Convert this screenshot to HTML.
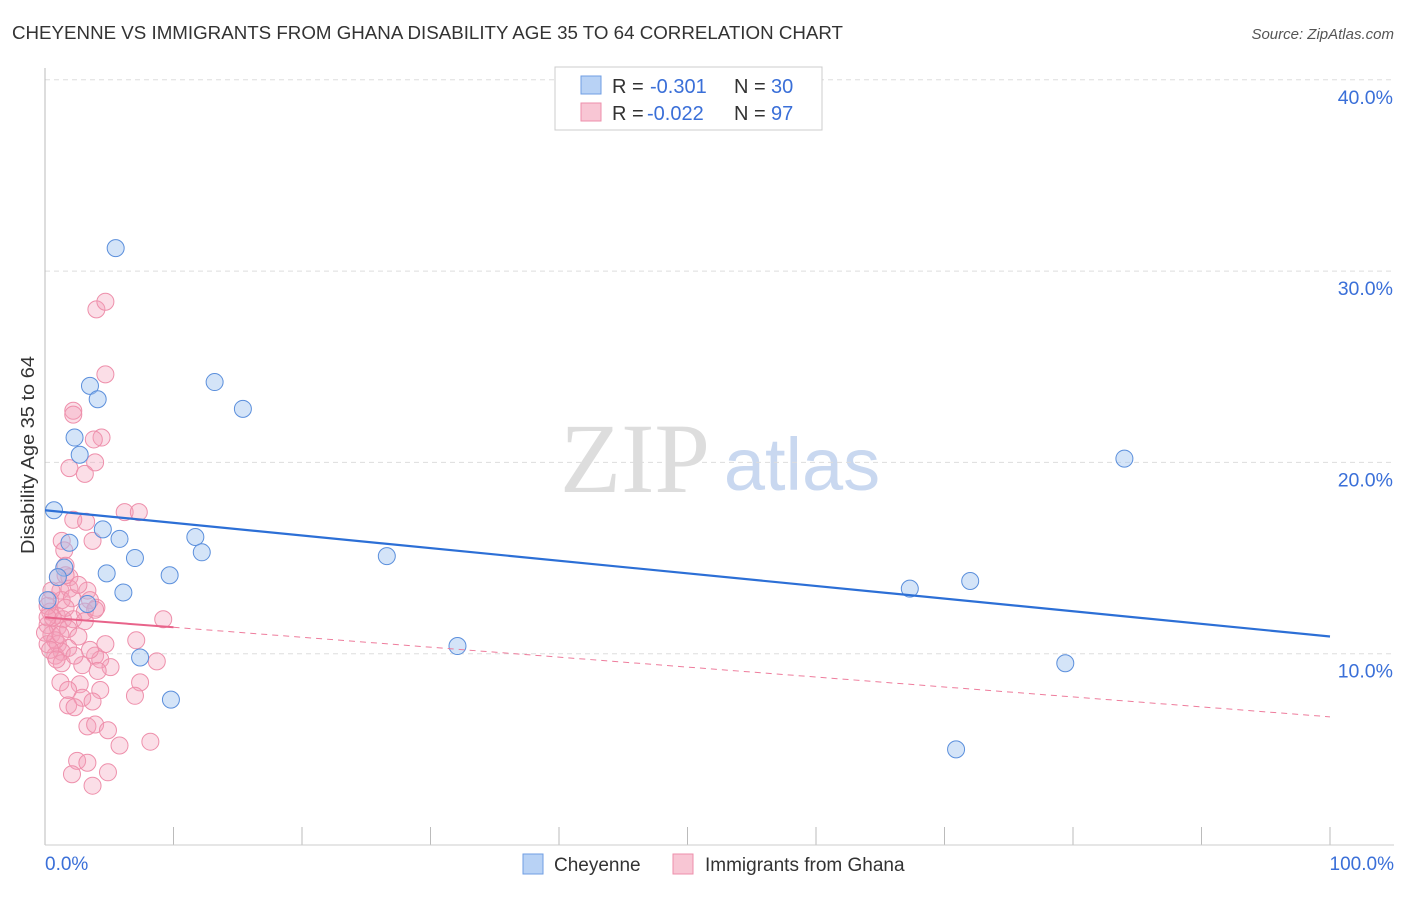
<!DOCTYPE html>
<html><head><meta charset="utf-8"><style>
body{margin:0;background:#fff;font-family:"Liberation Sans",sans-serif}
</style></head><body>
<svg id="chart" width="1406" height="892" viewBox="0 0 1406 892">
<text x="12" y="39" font-size="18" fill="#333" textLength="831" lengthAdjust="spacingAndGlyphs">CHEYENNE VS IMMIGRANTS FROM GHANA DISABILITY AGE 35 TO 64 CORRELATION CHART</text>
<text x="1394" y="39" font-size="15" fill="#555" font-style="italic" text-anchor="end">Source: ZipAtlas.com</text>
<text x="635" y="492" font-size="100" fill="#ddd" font-family="Liberation Serif,serif" text-anchor="middle">ZIP</text>
<text x="802" y="490" font-size="74" fill="#c9d8f0" text-anchor="middle">atlas</text>
<g id="grid"></g>
<line x1="45" y1="68" x2="45" y2="845" stroke="#bbb"/>
<line x1="45" y1="845" x2="1394" y2="845" stroke="#ccc"/>
<text x="34" y="455" font-size="18" fill="#333" text-anchor="middle" textLength="198" lengthAdjust="spacingAndGlyphs" transform="rotate(-90 34 455)">Disability Age 35 to 64</text>
<text x="45" y="870" font-size="19" fill="#3a6fd8">0.0%</text>
<text x="1394" y="870" font-size="19" fill="#3a6fd8" text-anchor="end">100.0%</text>
<g id="pts"></g>
<g id="lines"></g>
<g>
<rect x="555" y="67" width="267" height="63" fill="#fff" stroke="#ccc"/>
<rect x="581" y="76" width="20" height="18" fill="#b8d2f5" stroke="#6f9ee3"/>
<rect x="581" y="103" width="20" height="18" fill="#f8c6d4" stroke="#ee8fab"/>
<text x="612" y="93" font-size="20" fill="#333">R =</text>
<text x="650" y="93" font-size="20" fill="#3a6fd8">-0.301</text>
<text x="734" y="93" font-size="20" fill="#333">N =</text>
<text x="771" y="93" font-size="20" fill="#3a6fd8">30</text>
<text x="612" y="120" font-size="20" fill="#333">R =</text>
<text x="647" y="120" font-size="20" fill="#3a6fd8">-0.022</text>
<text x="734" y="120" font-size="20" fill="#333">N =</text>
<text x="771" y="120" font-size="20" fill="#3a6fd8">97</text>
</g>
<g>
<rect x="523" y="854" width="20" height="20" fill="#b8d2f5" stroke="#6f9ee3"/>
<text x="554" y="871" font-size="19" fill="#333">Cheyenne</text>
<rect x="673" y="854" width="20" height="20" fill="#f8c6d4" stroke="#ee8fab"/>
<text x="705" y="871" font-size="19" fill="#333">Immigrants from Ghana</text>
</g>
</svg>
<script>
const yTicks=[10,20,30,40];
const xTickVals=[0,10,20,30,40,50,60,70,80,90,100];
const blueX=[5.5,3.5,4.1,13.2,15.4,2.3,2.7,0.7,1.9,4.5,5.8,11.7,12.2,7.0,26.6,1.5,1.0,4.8,9.7,6.1,3.3,7.4,32.1,9.8,67.3,72.0,84.0,79.4,70.9,0.2];
const blueY=[31.2,24.0,23.3,24.2,22.8,21.3,20.4,17.5,15.8,16.5,16.0,16.1,15.3,15.0,15.1,14.5,14.0,14.2,14.1,13.2,12.6,9.8,10.4,7.6,13.4,13.8,20.2,9.5,5.0,12.8];
const pinkX=[4.0,4.7,4.7,2.2,2.2,4.4,3.8,3.9,1.9,3.1,6.2,7.3,2.2,3.2,1.3,3.7,1.5,1.6,1.0,1.9,1.2,1.9,3.3,0.4,1.3,2.1,3.5,4.0,3.1,0.4,0.9,1.4,2.2,0.2,1.0,1.8,3.1,9.2,0.5,2.6,0.2,1.0,1.8,4.7,7.1,0.8,1.3,3.9,4.3,1.3,2.9,5.1,8.7,4.1,1.2,2.7,1.8,4.3,7.4,7.0,2.9,1.8,2.3,3.7,3.3,3.9,4.9,5.8,8.2,2.5,3.3,2.1,4.9,3.7,0.2,0.6,0,0.8,0.4,1.2,1.6,2.6,1.6,2.3,3.9,0.5,0.9,0.2,3.5];
const pinkY=[28.0,28.4,24.6,22.7,22.5,21.3,21.2,20.0,19.7,19.4,17.4,17.4,17.0,16.9,15.9,15.9,15.4,14.6,14.0,14.0,13.3,13.4,13.3,12.8,12.8,12.9,12.8,12.4,12.2,12.2,12.0,11.8,11.8,11.5,11.4,11.3,11.7,11.8,11.0,10.9,10.5,10.5,10.3,10.5,10.7,9.9,10.1,9.9,9.7,9.5,9.4,9.3,9.6,9.1,8.5,8.4,8.1,8.1,8.5,7.8,7.7,7.3,7.2,7.5,6.2,6.3,6.0,5.2,5.4,4.4,4.3,3.7,3.8,3.1,12.5,11.9,11.1,10.7,10.2,11.0,12.4,13.6,14.1,9.9,12.3,13.3,9.7,11.9,10.2];
const blueTrend=[17.5,10.9];
const pinkTrend=[11.9,6.7];
const sx=v=>45+v*12.85, sy=v=>845-v*19.13;
const NS='http://www.w3.org/2000/svg';
function mk(t,a,p){const e=document.createElementNS(NS,t);for(const k in a)e.setAttribute(k,a[k]);p.appendChild(e);return e;}
const grid=document.getElementById('grid');
yTicks.forEach(v=>{
 const l=mk('line',{x1:45,x2:1394,y1:sy(v),y2:sy(v),stroke:'#ddd','stroke-dasharray':'5,4'},grid);
 
 
 const t=mk('text',{x:1393,y:sy(v)+24,'font-size':19.5,fill:'#3a6fd8','text-anchor':'end'},grid);
 t.textContent=v.toFixed(1)+'%';
 
 
});
xTickVals.forEach(v=>{
 const l=mk('line',{x1:sx(v),x2:sx(v),y1:827,y2:845,stroke:'#bbb'},grid);
 
 
});
const pts=document.getElementById('pts');
pinkX.forEach((x,i)=>{
 const c=mk('circle',{cx:sx(x),cy:sy(pinkY[i]),r:8.5,fill:'rgba(244,160,185,0.35)',stroke:'#ee8fab','stroke-width':1},pts);
 
 
});
blueX.forEach((x,i)=>{
 const c=mk('circle',{cx:sx(x),cy:sy(blueY[i]),r:8.5,fill:'rgba(160,195,240,0.45)',stroke:'#5b8fdc','stroke-width':1},pts);
 
 
});
const ln=document.getElementById('lines');
const bl=mk('line',{x1:sx(0),y1:sy(blueTrend[0]),x2:sx(100),y2:sy(blueTrend[1]),stroke:'#2c6fd6','stroke-width':2.2},ln);


const pf=t=>pinkTrend[0]+(pinkTrend[1]-pinkTrend[0])*t/100;
const pd=mk('line',{x1:sx(10),y1:sy(pf(10)),x2:sx(100),y2:sy(pf(100)),stroke:'#ee7c9c','stroke-width':1,'stroke-dasharray':'6,5'},ln);


const ps=mk('line',{x1:sx(0),y1:sy(pf(0)),x2:sx(10),y2:sy(pf(10)),stroke:'#e8638a','stroke-width':2},ln);


</script>
</body></html>
